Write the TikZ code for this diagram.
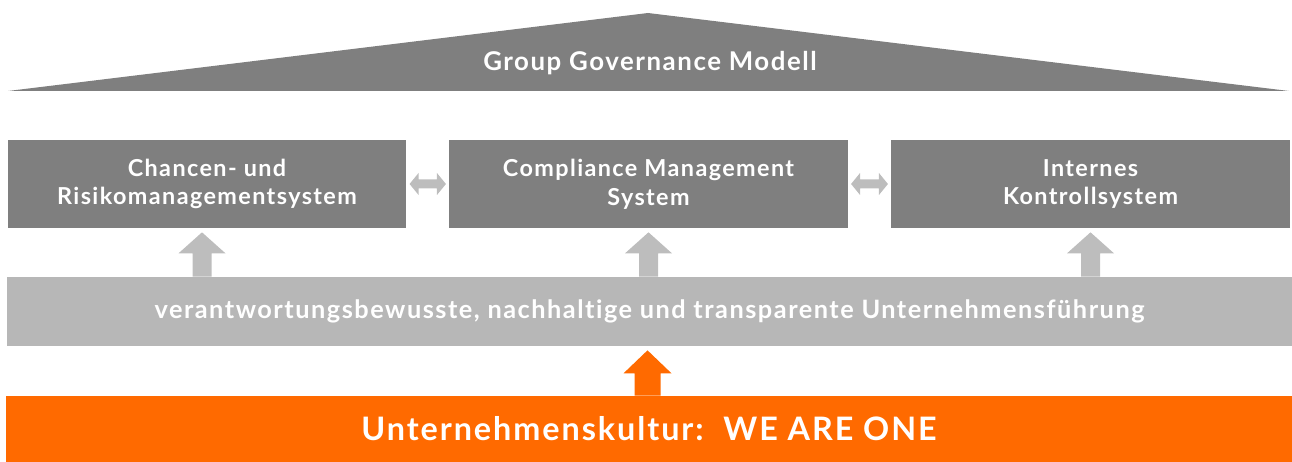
\documentclass[tikz,border=0pt]{standalone}
\usepackage{fontspec}
\setmainfont{Lato}[LetterSpace=6,Ligatures=NoCommon]
\usetikzlibrary{positioning,calc}
\definecolor{roofgray}{HTML}{7F7F7F}
\definecolor{bandgray}{HTML}{B7B7B7}
\definecolor{arrowgray}{HTML}{BDBDBD}
\definecolor{weorange}{HTML}{FF6A00}

% fat arrow between two neighbouring pillars
\newcommand{\sidearrow}[2]{%
  \fill[arrowgray] ($(#1.east)+(3,0)$) -- ++(9,-11) -- ++(0,6.5)
    -- ($(#2.west)+(-12,-4.5)$) -- ++(0,-6.5) -- ++(9,11) -- ++(-9,11)
    -- ++(0,-6.5) -- ($(#1.east)+(12,4.5)$) -- ++(0,6.5) -- cycle;}

% fat arrow from a lower node up to an upper node
\newcommand{\risearrow}[7]{%
  \coordinate (tip) at ($(#2.south)+(#3,4)$);
  \coordinate (tipL) at ($(tip)+(-#4,0)$);
  \coordinate (tipR) at ($(tip)+(#4,0)$);
  \fill[#7] (tip) -- ($(tip)+(#5,#6)$) -- ($(tipR)+(0,#6)$) -- (tipR |- #1.north)
    -- (tipL |- #1.north) -- ($(tipL)+(0,#6)$) -- ($(tip)+(-#5,#6)$) -- cycle;}

\begin{document}
\begin{tikzpicture}[x=0.02cm,y=-0.02cm,
    pillar/.style={fill=roofgray, text=white, inner sep=0pt, align=center,
      minimum width=7.97cm, minimum height=1.76cm,
      font=\bfseries\fontsize{13.3}{16.4}\selectfont},
    band/.style={fill=bandgray, text=white, inner sep=0pt,
      minimum width=25.7cm, minimum height=1.38cm,
      font=\bfseries\fontsize{14.4}{16.4}\selectfont},
    kultur/.style={fill=weorange, text=white, inner sep=0pt,
      minimum width=25.72cm, minimum height=1.32cm,
      font=\bfseries\fontsize{18.4}{22}\selectfont}]
  \useasboundingbox (0,0) rectangle (1292,462);

  % roof
  \fill[roofgray] (8,91) coordinate (roofL) -- (648,13) coordinate (roofT)
    -- (1289,91) coordinate (roofR) -- cycle;
  \node[text=white, font=\bfseries\fontsize{14.7}{16.4}\selectfont] (roof) at (650,63) {Group Governance Modell};

  % pillars
  \node[pillar] (risk) at (207,184) {Chancen- und\\Risikomanagementsystem};
  \node[pillar] (cms) at (648.5,184) {Compliance Management\\System};
  \node[pillar] (iks) at (1090.5,184) {Internes\\Kontrollsystem};

  % foundation
  \node[band] (fuehrung) at (649.5,311.5) {verantwortungsbewusste, nachhaltige und transparente Unternehmensführung};
  \node[kultur] (kultur) at (649,429) {Unternehmenskultur:\ \ WE ARE ONE};

  \sidearrow{risk}{cms}
  \sidearrow{cms}{iks}

  \risearrow{fuehrung}{risk}{-5}{9.5}{23.5}{21}{arrowgray}
  \risearrow{fuehrung}{cms}{0}{9.5}{23.5}{21}{arrowgray}
  \risearrow{fuehrung}{iks}{0}{9.5}{23.5}{21}{arrowgray}
  \risearrow{kultur}{fuehrung}{-2}{13}{24}{23}{weorange}
\end{tikzpicture}
\end{document}
